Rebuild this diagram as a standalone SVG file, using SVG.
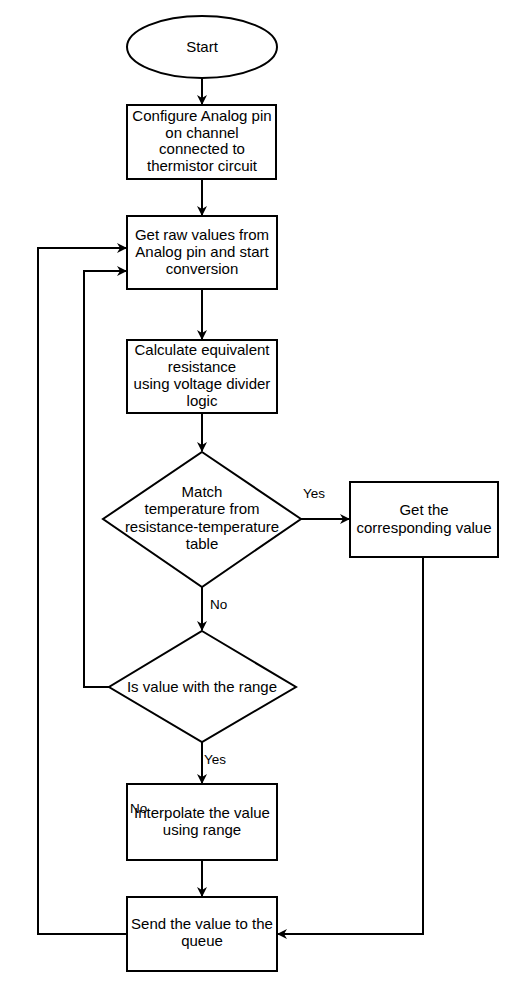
<svg xmlns="http://www.w3.org/2000/svg" width="520" height="989" viewBox="0 0 520 989">
<style>
.s{fill:#fff;stroke:#000;stroke-width:2}
.t{font-family:"Liberation Sans",Arial,sans-serif;font-size:15px;fill:#000;text-anchor:middle}
.l{font-family:"Liberation Sans",Arial,sans-serif;font-size:13.5px;fill:#000}
.c{fill:none;stroke:#000;stroke-width:2;marker-end:url(#a)}
</style>
<defs>
<marker id="a" viewBox="0 0 10 10" refX="9" refY="5" markerWidth="10" markerHeight="10" markerUnits="userSpaceOnUse" orient="auto">
<path d="M0,0 L10,5 L0,10 L3,5 Z" fill="#000"/>
</marker>
</defs>
<rect width="520" height="989" fill="#fff"/>
<g id="start">
<ellipse class="s" cx="202" cy="47" rx="75" ry="31"/>
<text class="t" x="202" y="52">Start</text>
</g>
<g id="configure">
<rect class="s" x="127" y="105" width="149" height="74"/>
<text class="t" x="202" y="121">Configure Analog pin</text>
<text class="t" x="202" y="138">on channel</text>
<text class="t" x="202" y="154">connected to</text>
<text class="t" x="202" y="171">thermistor circuit</text>
</g>
<g id="getraw">
<rect class="s" x="127" y="216" width="150" height="73"/>
<text class="t" x="202" y="240">Get raw values from</text>
<text class="t" x="202" y="257">Analog pin and start</text>
<text class="t" x="202" y="274">conversion</text>
</g>
<g id="calculate">
<rect class="s" x="127" y="340" width="150" height="73"/>
<text class="t" x="202" y="355">Calculate equivalent</text>
<text class="t" x="202" y="372">resistance</text>
<text class="t" x="202" y="389">using voltage divider</text>
<text class="t" x="202" y="406">logic</text>
</g>
<g id="match">
<polygon class="s" points="202,452 301,519 202,587 103,519"/>
<text class="t" x="202" y="497">Match</text>
<text class="t" x="202" y="514">temperature from</text>
<text class="t" x="202" y="532">resistance-temperature</text>
<text class="t" x="202" y="549">table</text>
</g>
<g id="getcorr">
<rect class="s" x="350" y="482" width="148" height="75"/>
<text class="t" x="424" y="515">Get the</text>
<text class="t" x="424" y="533">corresponding value</text>
</g>
<g id="inrange">
<polygon class="s" points="202,631 296,687 202,742 109,687"/>
<text class="t" x="202" y="692">Is value with the range</text>
</g>
<g id="interpolate">
<rect class="s" x="127" y="784" width="150" height="76"/>
<text class="t" x="202" y="818">Interpolate the value</text>
<text class="t" x="202" y="835">using range</text>
</g>
<g id="send">
<rect class="s" x="127" y="897" width="150" height="74"/>
<text class="t" x="202" y="929">Send the value to the</text>
<text class="t" x="202" y="946">queue</text>
</g>
<g id="connectors">
<path class="c" d="M202,78 L202,104"/>
<path class="c" d="M202,179 L202,215"/>
<path class="c" d="M202,289 L202,339"/>
<path class="c" d="M202,413 L202,451"/>
<path class="c" d="M301,519 L349,519"/>
<path class="c" d="M202,587 L202,630"/>
<path class="c" d="M109,687 L84,687 L84,271 L126,271"/>
<path class="c" d="M202,742 L202,783"/>
<path class="c" d="M202,860 L202,896"/>
<path class="c" d="M423,557 L423,934 L278,934"/>
<path class="c" d="M127,934 L38,934 L38,248 L126,248"/>
<text class="l" x="303" y="498">Yes</text>
<text class="l" x="210" y="609">No</text>
<text class="l" x="204" y="764">Yes</text>
<text class="l" x="130" y="813">No</text>
</g>
</svg>
